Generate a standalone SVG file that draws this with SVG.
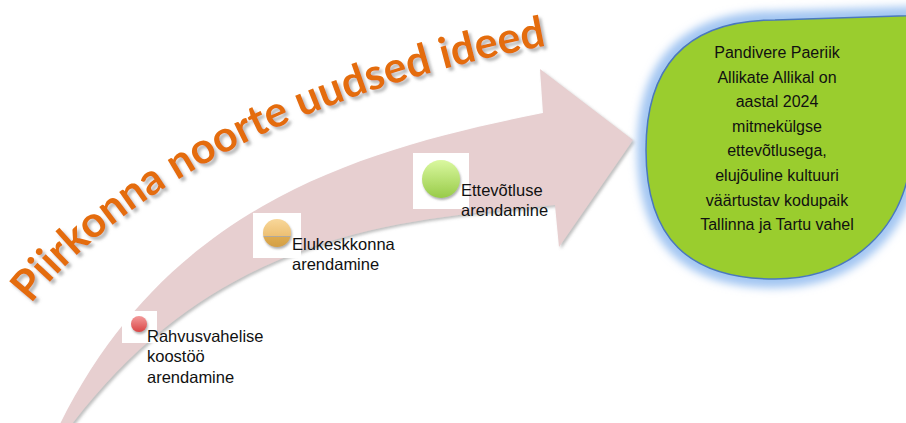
<svg xmlns="http://www.w3.org/2000/svg" width="906" height="423" viewBox="0 0 906 423">
<defs>
<style>
.lbl{font-family:"Liberation Sans",Arial,sans-serif;font-size:16.5px;fill:#111}
.ct{font-family:"Liberation Sans",Arial,sans-serif;font-size:16px;fill:#111;text-anchor:middle}
.title{font-family:Lato,"Liberation Sans",Arial,sans-serif;font-weight:bold;font-size:43px;fill:#E46C0A}
.box{fill:#ffffff}
</style>
<filter id="arrowShadow" x="-10%" y="-10%" width="130%" height="130%">
<feGaussianBlur in="SourceAlpha" stdDeviation="1.5"/>
<feOffset dx="2" dy="2" result="b"/>
<feFlood flood-color="#808080" flood-opacity="0.5"/>
<feComposite in2="b" operator="in"/>
<feMerge><feMergeNode/><feMergeNode in="SourceGraphic"/></feMerge>
</filter>
<filter id="textShadow" x="-10%" y="-10%" width="130%" height="130%">
<feGaussianBlur in="SourceAlpha" stdDeviation="1.5"/>
<feOffset dx="3" dy="3" result="b"/>
<feFlood flood-color="#7f7f7f" flood-opacity="0.55"/>
<feComposite in2="b" operator="in"/>
<feMerge><feMergeNode/><feMergeNode in="SourceGraphic"/></feMerge>
</filter>
<filter id="glow" x="-20%" y="-20%" width="140%" height="140%">
<feGaussianBlur stdDeviation="4"/>
</filter>
<filter id="dotShadow" x="-50%" y="-50%" width="200%" height="200%">
<feGaussianBlur in="SourceAlpha" stdDeviation="1.2"/>
<feOffset dx="1" dy="2" result="b"/>
<feFlood flood-color="#606060" flood-opacity="0.5"/>
<feComposite in2="b" operator="in"/>
<feMerge><feMergeNode/><feMergeNode in="SourceGraphic"/></feMerge>
</filter>
<linearGradient id="gRed" x1="0" y1="0" x2="0" y2="1">
<stop offset="0" stop-color="#F39A9A"/><stop offset="1" stop-color="#D94545"/>
</linearGradient>
<linearGradient id="gOrange" x1="0" y1="0" x2="0" y2="1">
<stop offset="0" stop-color="#F8D79A"/><stop offset="0.6" stop-color="#EDC073"/><stop offset="0.62" stop-color="#A9A9A9"/><stop offset="0.66" stop-color="#DDAA50"/><stop offset="1" stop-color="#D39F45"/>
</linearGradient>
<linearGradient id="gGreen" x1="0" y1="0" x2="0" y2="1">
<stop offset="0" stop-color="#DAF8A0"/><stop offset="1" stop-color="#98CB48"/>
</linearGradient>
<path id="titlePath" d="M 31,304 C 95,222 255,100 550,45"/>
<path id="visionShape" d="M 646,150 C 646,62 690,20 775,20 L 960,14 L 912,150 C 906,230 850,279 775,279 C 688,279 646,238 646,150 Z"/>
</defs>
<rect width="906" height="423" fill="#ffffff"/>

<g id="connectors">
<path id="arrow" d="M 60,424 C 170,203 363,149 543,113 L 540,69 L 633,140 L 559,247 L 555,205 C 405,220 222,228 72,424 Z" fill="#E7CFD0" filter="url(#arrowShadow)"/>
</g>

<g id="title" filter="url(#textShadow)">
<text class="title"><textPath href="#titlePath" textLength="588" lengthAdjust="spacing">Piirkonna noorte uudsed ideed</textPath></text>
</g>

<g id="node-rahvusvahelise">
<rect class="box" x="122" y="311" width="35" height="32"/>
<circle cx="139" cy="324" r="8" fill="url(#gRed)" filter="url(#dotShadow)"/>
<text class="lbl" x="147" y="342">Rahvusvahelise</text>
<text class="lbl" x="147" y="362">koostöö</text>
<text class="lbl" x="147" y="383">arendamine</text>
</g>

<g id="node-elukeskkonna">
<rect class="box" x="253" y="213" width="48" height="45"/>
<circle cx="277" cy="233" r="14" fill="url(#gOrange)" filter="url(#dotShadow)"/>
<text class="lbl" x="292" y="250">Elukeskkonna</text>
<text class="lbl" x="292" y="270">arendamine</text>
</g>

<g id="node-ettevotluse">
<rect class="box" x="413" y="153" width="56" height="56"/>
<circle cx="441" cy="179" r="19" fill="url(#gGreen)" filter="url(#dotShadow)"/>
<text class="lbl" x="461" y="196">Ettevõtluse</text>
<text class="lbl" x="461" y="216">arendamine</text>
</g>

<g id="node-vision">
<use href="#visionShape" fill="none" stroke="#A3C6F2" stroke-width="18" filter="url(#glow)"/>
<use href="#visionShape" fill="#9ACD2E" stroke="#4A78BE" stroke-width="1.5"/>
<text class="ct" x="777" y="58">Pandivere Paeriik</text>
<text class="ct" x="777" y="83">Allikate Allikal on</text>
<text class="ct" x="777" y="107">aastal 2024</text>
<text class="ct" x="777" y="132">mitmekülgse</text>
<text class="ct" x="777" y="156">ettevõtlusega,</text>
<text class="ct" x="777" y="181">elujõuline kultuuri</text>
<text class="ct" x="777" y="206">väärtustav kodupaik</text>
<text class="ct" x="777" y="230">Tallinna ja Tartu vahel</text>
</g>
</svg>
